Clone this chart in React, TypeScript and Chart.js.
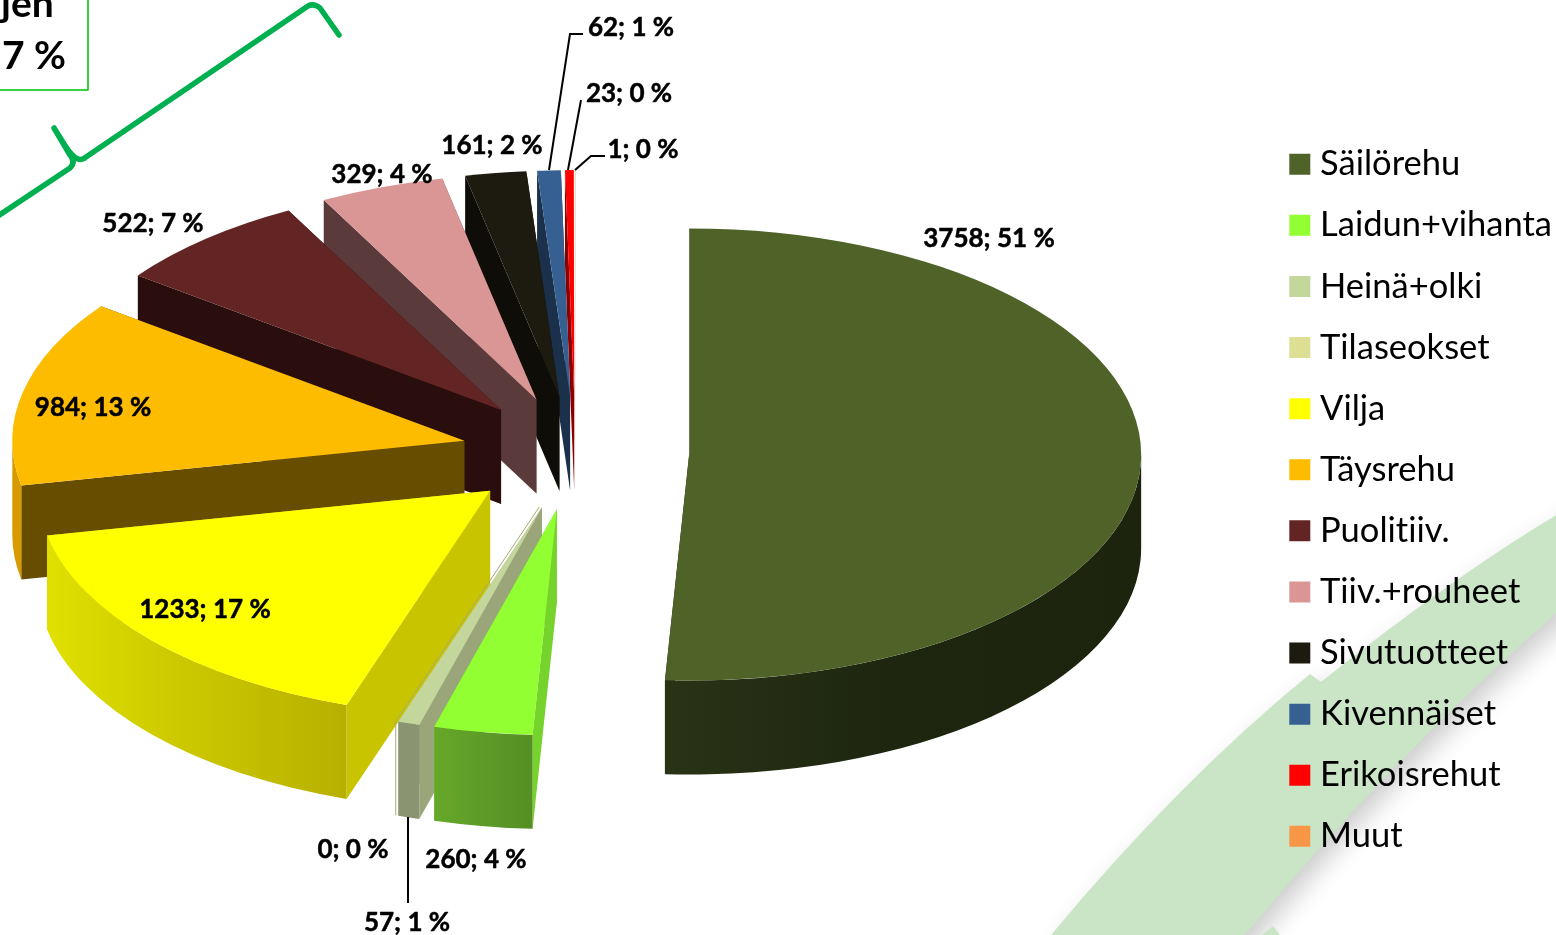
import React, { useEffect, useRef } from "react";
import { Chart, registerables } from "chart.js";

Chart.register(...registerables);

const categories = ["Säilörehu", "Laidun+vihanta", "Heinä+olki", "Tilaseokset", "Vilja", "Täysrehu", "Puolitiiv.", "Tiiv.+rouheet", "Sivutuotteet", "Kivennäiset", "Erikoisrehut", "Muut"];
const values = [3758, 260, 57, 0, 1233, 984, 522, 329, 161, 62, 23, 1];
const percents = [51, 4, 1, 0, 17, 13, 7, 4, 2, 1, 0, 0];

const topColors = ["#4f6228", "#92ff33", "#c3d69b", "#dde094", "#ffff00", "#fdbc00", "#632523", "#d99694", "#1d1b10", "#376092", "#ff0000", "#f79646"];
const cutColors = ["#1e2510", "#76d32c", "#9aa67a", "#a8aa70", "#c8c400", "#664d00", "#2a0d0d", "#5a3a3a", "#0e0d08", "#1b304a", "#8a0000", "#f5c9a8"];
const rimLeft = ["#2a3316", "#66a82a", "#8a9470", "#a8aa70", "#e0e000", "#d99a00", "#2a0d0d", "#5a3a3a", "#0e0d08", "#1b304a", "#8a0000", "#f5c9a8"];
const rimMid = ["#1e2610", "#5e9c28", "#8a9470", "#a8aa70", "#ccc800", "#d99a00", "#2a0d0d", "#5a3a3a", "#0e0d08", "#1b304a", "#8a0000", "#f5c9a8"];
const rimRight = ["#1c240e", "#558f25", "#8a9470", "#a8aa70", "#b8b000", "#d99a00", "#2a0d0d", "#5a3a3a", "#0e0d08", "#1b304a", "#8a0000", "#f5c9a8"];

// label centres, in page pixels
const labelX = [989, 476, 407, 353, 205, 93, 153, 382, 492, 631, 629, 643];
const labelY = [239, 860, 923, 850, 610, 408, 224, 175, 146, 28, 94, 150];

const leaderLines = [
  [[583, 34], [570, 34], [549, 170]],
  [[581, 100], [568, 170]],
  [[605, 156], [591, 156], [575, 170]],
  [[408, 903], [408, 817]],
];

const PIE_X = 575.4;
const PIE_Y = 453;
const RADIUS = 452;
const SQUASH = 0.5;
const EXPLODE = 113.8;
const DEPTH = 94;
const FONT = "Lato, Carlito, sans-serif";

function drawBackdrop(ctx: CanvasRenderingContext2D) {
  ctx.save();
  ctx.fillStyle = "#ffffff";
  ctx.fillRect(0, 0, 1556, 935);

  ctx.save();
  ctx.shadowColor = "rgba(0,0,0,0.2)";
  ctx.shadowBlur = 26;
  ctx.shadowOffsetX = 7;
  ctx.shadowOffsetY = 11;
  ctx.fillStyle = "#cae5c6";
  ctx.beginPath();
  ctx.moveTo(1600, 490);
  ctx.quadraticCurveTo(1480, 555, 1321, 682);
  ctx.lineTo(1310, 674);
  ctx.quadraticCurveTo(1180, 780, 1051, 935);
  ctx.lineTo(1237, 945);
  ctx.quadraticCurveTo(1400, 745, 1600, 575);
  ctx.closePath();
  ctx.fill();
  ctx.restore();
  ctx.fillStyle = "#cae5c6";
  ctx.beginPath();
  ctx.moveTo(1273, 926);
  ctx.lineTo(1262, 935);
  ctx.lineTo(1280, 935);
  ctx.closePath();
  ctx.fill();

  // brace
  ctx.strokeStyle = "#00b050";
  ctx.lineWidth = 5.5;
  ctx.lineCap = "round";
  ctx.lineJoin = "round";
  ctx.beginPath();
  ctx.moveTo(-5, 218);
  ctx.lineTo(70, 168);
  ctx.quadraticCurveTo(76, 162, 70, 155);
  ctx.lineTo(54, 128);
  ctx.lineTo(66, 147);
  ctx.quadraticCurveTo(78, 165, 86, 157);
  ctx.lineTo(308, 6);
  ctx.quadraticCurveTo(314, 3, 320, 8);
  ctx.lineTo(339, 35);
  ctx.stroke();

  // callout box
  ctx.strokeStyle = "#00c000";
  ctx.lineWidth = 1.5;
  ctx.lineCap = "butt";
  ctx.beginPath();
  ctx.moveTo(88, -2);
  ctx.lineTo(88, 90);
  ctx.lineTo(-2, 90);
  ctx.stroke();
  ctx.fillStyle = "#000000";
  ctx.font = `bold 39px ${FONT}`;
  ctx.textBaseline = "alphabetic";
  ctx.textAlign = "left";
  ctx.fillText("jen", 1, 17);
  ctx.fillText("7 %", 2, 69);
  ctx.restore();
}

const pie3d = {
  id: "pie3d",
  beforeDraw(chart: any) {
    chart.ctx.textRendering = "optimizeSpeed";
    drawBackdrop(chart.ctx);
    if (chart.legend) {
      chart.legend.left = 1270.2;
      chart.legend.top = 120.4;
    }
  },
  beforeDatasetsDraw(chart: any) {
    const ctx: CanvasRenderingContext2D = chart.ctx;
    const arcs = chart.getDatasetMeta(0).data;
    const slices = arcs
      .map((arc: any, i: number) => {
        const mid = (arc.startAngle + arc.endAngle) / 2;
        return {
          arc,
          i,
          ax: PIE_X + EXPLODE * Math.cos(mid),
          ay: PIE_Y + EXPLODE * SQUASH * Math.sin(mid),
        };
      })
      .sort((a: any, b: any) => a.ay - b.ay);

    for (const { arc, i, ax, ay } of slices) {
      const r = arc.outerRadius;
      const ry = r * SQUASH;
      const pt = (a: number) => [ax + r * Math.cos(a), ay + ry * Math.sin(a)];
      ctx.save();
      if (values[i] === 0) {
        // an empty share still shows as a hairline in the original
        const [px, py] = pt(arc.startAngle);
        ctx.strokeStyle = cutColors[i];
        ctx.lineWidth = 1;
        ctx.beginPath();
        ctx.moveTo(ax, ay);
        ctx.lineTo(px, py);
        ctx.lineTo(px, py + DEPTH);
        ctx.stroke();
        ctx.restore();
        continue;
      }
      // cut faces
      ctx.fillStyle = cutColors[i];
      for (const a of [arc.endAngle, arc.startAngle]) {
        const [px, py] = pt(a);
        ctx.beginPath();
        ctx.moveTo(ax, ay);
        ctx.lineTo(px, py);
        ctx.lineTo(px, py + DEPTH);
        ctx.lineTo(ax, ay + DEPTH);
        ctx.closePath();
        ctx.fill();
      }
      // rim, front half only
      const a0 = Math.max(arc.startAngle, 0);
      const a1 = Math.min(arc.endAngle, Math.PI);
      if (a0 < a1) {
        const xs = [pt(a0)[0], pt(a1)[0]];
        if (a0 < Math.PI / 2 && a1 > Math.PI / 2) xs.push(ax);
        if (a0 === 0) xs.push(ax + r);
        const left = Math.min(...xs);
        const right = Math.max(...xs);
        const g = ctx.createLinearGradient(left, 0, right, 0);
        g.addColorStop(0, rimLeft[i]);
        g.addColorStop(0.45, rimMid[i]);
        g.addColorStop(1, rimRight[i]);
        ctx.fillStyle = g;
        ctx.beginPath();
        ctx.ellipse(ax, ay, r, ry, 0, a0, a1);
        ctx.ellipse(ax, ay + DEPTH, r, ry, 0, a1, a0, true);
        ctx.closePath();
        ctx.fill();
      }
      // top face, drawn by the library's arc
      ctx.translate(ax, ay);
      ctx.scale(1, SQUASH);
      ctx.translate(-arc.x, -arc.y);
      arc.draw(ctx);
      ctx.restore();
    }

    // leader lines
    ctx.save();
    ctx.strokeStyle = "#000000";
    ctx.lineWidth = 2;
    for (const line of leaderLines) {
      ctx.beginPath();
      line.forEach(([x, y], k) => (k ? ctx.lineTo(x, y) : ctx.moveTo(x, y)));
      ctx.stroke();
    }
    // data labels
    ctx.fillStyle = "#000000";
    ctx.strokeStyle = "#000000";
    ctx.lineWidth = 0.5;
    ctx.lineJoin = "round";
    ctx.font = `bold 26px ${FONT}`;
    ctx.textAlign = "center";
    ctx.textBaseline = "middle";
    values.forEach((v, i) => {
      const text = `${v}; ${percents[i]} %`;
      ctx.fillText(text, labelX[i], labelY[i]);
      ctx.strokeText(text, labelX[i], labelY[i]);
    });
    ctx.restore();
    return false;
  },
};

export default function App() {
  const ref = useRef<HTMLCanvasElement | null>(null);
  useEffect(() => {
    const chart = new Chart(ref.current as HTMLCanvasElement, {
      type: "pie",
      data: {
        labels: categories,
        datasets: [{ data: values, backgroundColor: topColors, borderWidth: 0 }],
      },
      options: {
        responsive: false,
        animation: false,
        radius: RADIUS,
        plugins: {
          tooltip: { enabled: false },
          title: { display: false },
          legend: {
            display: true,
            position: "right",
            align: "start",
            labels: {
              color: "#000000",
              font: { family: FONT, size: 34.5 },
              boxWidth: 6,
              boxHeight: 21,
              usePointStyle: true,
              pointStyle: "rect",
              padding: 26.6,
            },
          },
        },
      } as any,
      plugins: [pie3d],
    });
    return () => chart.destroy();
  }, []);
  return (
    <div style={{ position: "fixed", left: 0, top: 0, width: 1556, height: 935 }}>
      <canvas ref={ref} width={1556} height={935} style={{ display: "block" }} />
    </div>
  );
}
